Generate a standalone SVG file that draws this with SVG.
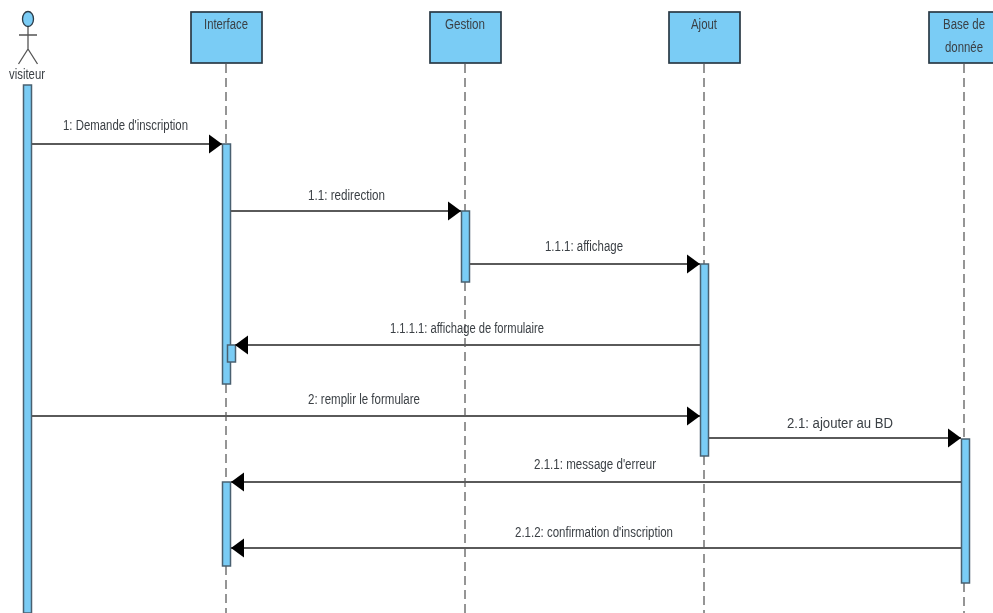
<svg xmlns="http://www.w3.org/2000/svg" width="993" height="613" viewBox="0 0 993 613">
<style>
text{font-family:"Liberation Sans",Arial,sans-serif;font-size:14px;fill:#3a3f44;text-anchor:middle}
.box{fill:#7accf5;stroke:#2b3a46;stroke-width:1.7}
.act{fill:#7accf5;stroke:#4a6070;stroke-width:1.5}
.life{stroke:#8a8a8a;stroke-width:1.8;stroke-dasharray:9 5;fill:none}
.msg{stroke:#5a5a5a;stroke-width:2;fill:none;marker-end:url(#h)}
.stick{stroke:#555;stroke-width:1.3;fill:none}
</style>
<defs>
<marker id="h" markerUnits="userSpaceOnUse" markerWidth="14" markerHeight="20" refX="13" refY="10" orient="auto"><path d="M0 0.500L13 10L0 19.500Z" fill="#000"/></marker>
<filter id="b" x="-5%" y="-5%" width="110%" height="110%"><feGaussianBlur stdDeviation="0.55"/></filter>
</defs>
<rect width="993" height="613" fill="#fff"/>
<g filter="url(#b)">
<g id="lifelines">
<path class="life" d="M226 64V144M226 384V482M226 566V613"/>
<path class="life" d="M465 64V211M465 282V613"/>
<path class="life" d="M704 64V264M704 456V613"/>
<path class="life" d="M964 64V439M964 583V613"/>
</g>
<g id="visiteur">
<ellipse cx="28" cy="19" rx="5.500" ry="7.500" fill="#7accf5" stroke="#2b3a46" stroke-width="1.300"/>
<path class="stick" d="M28 27V49M19 35H37M28 49L18.500 64M28 49L37.500 64"/>
<text x="27" y="79" textLength="36" lengthAdjust="spacingAndGlyphs">visiteur</text>
<rect class="act" x="23.500" y="85" width="8" height="528"/>
</g>
<g id="interface">
<rect class="box" x="191" y="12" width="71" height="51"/>
<text x="226" y="29" textLength="44" lengthAdjust="spacingAndGlyphs">Interface</text>
<rect class="act" x="222.500" y="144" width="8" height="240"/>
<rect class="act" x="227.500" y="345" width="8" height="17"/>
<rect class="act" x="222.500" y="482" width="8" height="84"/>
</g>
<g id="gestion">
<rect class="box" x="430" y="12" width="71" height="51"/>
<text x="465" y="29" textLength="40" lengthAdjust="spacingAndGlyphs">Gestion</text>
<rect class="act" x="461.500" y="211" width="8" height="71"/>
</g>
<g id="ajout">
<rect class="box" x="669" y="12" width="71" height="51"/>
<text x="704" y="29" textLength="26" lengthAdjust="spacingAndGlyphs">Ajout</text>
<rect class="act" x="700.500" y="264" width="8" height="192"/>
</g>
<g id="base">
<rect class="box" x="929" y="12" width="71" height="51"/>
<text x="964" y="29" textLength="42" lengthAdjust="spacingAndGlyphs">Base de</text>
<text x="964" y="52" textLength="38" lengthAdjust="spacingAndGlyphs">donnée</text>
<rect class="act" x="961.500" y="439" width="8" height="144"/>
</g>
<g id="connectors">
<path class="msg" d="M32 144H222"/>
<path class="msg" d="M231 211H461"/>
<path class="msg" d="M470 264H700"/>
<path class="msg" d="M700 345H235"/>
<path class="msg" d="M32 416H700"/>
<path class="msg" d="M709 438H961"/>
<path class="msg" d="M961 482H231"/>
<path class="msg" d="M961 548H231"/>
</g>
<g id="labels">
<text x="125.500" y="130" textLength="125" lengthAdjust="spacingAndGlyphs">1: Demande d'inscription</text>
<text x="346.500" y="200" textLength="77" lengthAdjust="spacingAndGlyphs">1.1: redirection</text>
<text x="584" y="251" textLength="78" lengthAdjust="spacingAndGlyphs">1.1.1: affichage</text>
<text x="467" y="333" textLength="154" lengthAdjust="spacingAndGlyphs">1.1.1.1: affichage de formulaire</text>
<text x="364" y="404" textLength="112" lengthAdjust="spacingAndGlyphs">2: remplir le formulare</text>
<text x="840" y="428" textLength="106" lengthAdjust="spacingAndGlyphs">2.1: ajouter au BD</text>
<text x="595" y="469" textLength="122" lengthAdjust="spacingAndGlyphs">2.1.1: message d'erreur</text>
<text x="594" y="537" textLength="158" lengthAdjust="spacingAndGlyphs">2.1.2: confirmation d'inscription</text>
</g>
</g>
</svg>
